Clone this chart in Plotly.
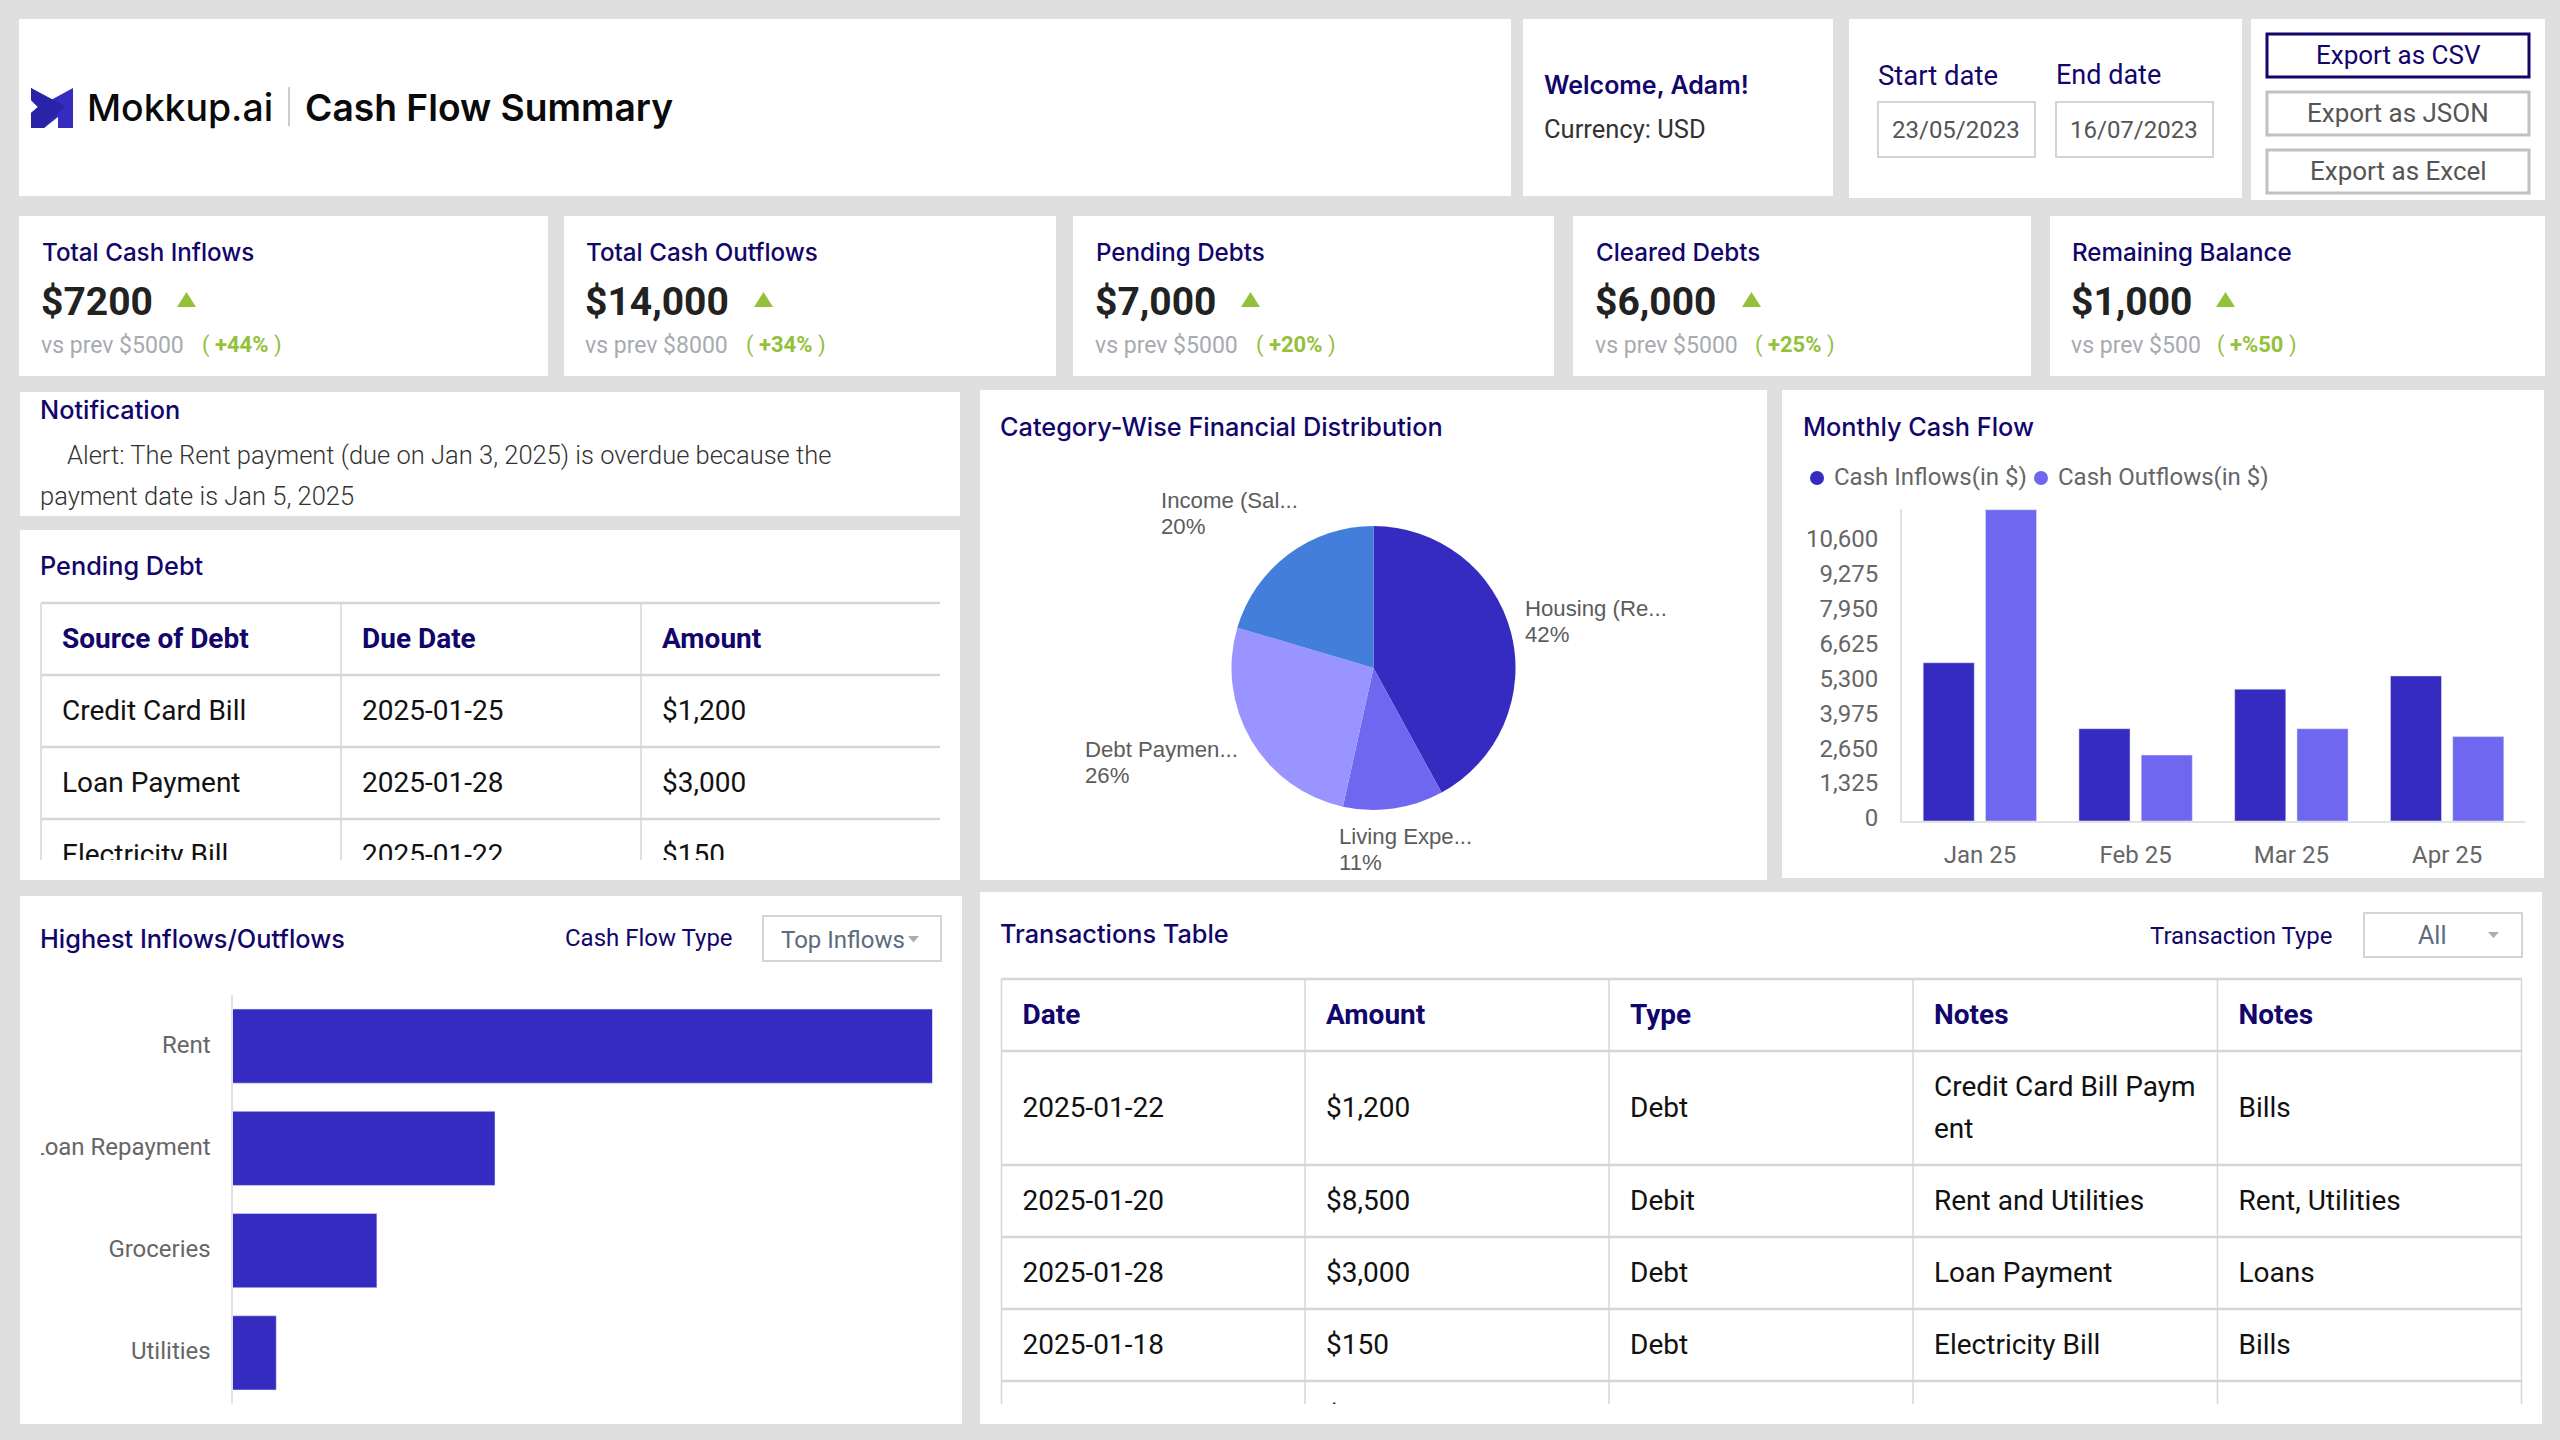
import plotly.graph_objects as go

W, H = 2560, 1440
NAVY = "#12066b"
INK = "#1f1f1f"
GREY = "#666666"
LINE = "#d6d6d6"
GREEN = "#93c13a"
BLUE1 = "#352bc0"
BLUE2 = "#6f67f0"
BLUE3 = "#9994ff"
BLUE4 = "#437fda"

# data
kpi_titles = ["Total Cash Inflows", "Total Cash Outflows", "Pending Debts", "Cleared Debts", "Remaining Balance"]
kpi_values = ["$7200", "$14,000", "$7,000", "$6,000", "$1,000"]
kpi_prev = ["vs prev $5000", "vs prev $8000", "vs prev $5000", "vs prev $5000", "vs prev $500"]
kpi_change = ["+44%", "+34%", "+20%", "+25%", "+%50"]

pie_labels = ["Housing (Re...", "Living Expe...", "Debt Paymen...", "Income (Sal..."]
pie_values = [42.0, 11.4, 26.1, 20.4]

months = ["Jan 25", "Feb 25", "Mar 25", "Apr 25"]
cash_inflows = [6000, 3500, 5000, 5500]
cash_outflows = [11800, 2500, 3500, 3200]
month_ticks = [0, 1325, 2650, 3975, 5300, 6625, 7950, 9275, 10600]

top_names = ["Rent", "Loan Repayment", "Groceries", "Utilities"]
top_values = [8000, 3000, 1650, 500]

debt_header = ["Source of Debt", "Due Date", "Amount"]
debt_rows = [
    ["Credit Card Bill", "2025-01-25", "$1,200"],
    ["Loan Payment", "2025-01-28", "$3,000"],
    ["Electricity Bill", "2025-01-22", "$150"],
]

trans_header = ["Date", "Amount", "Type", "Notes", "Notes"]
trans_rows = [
    ["2025-01-22", "$1,200", "Debt", "Credit Card Bill Paym<br>ent", "Bills"],
    ["2025-01-20", "$8,500", "Debit", "Rent and Utilities", "Rent, Utilities"],
    ["2025-01-28", "$3,000", "Debt", "Loan Payment", "Loans"],
    ["2025-01-18", "$150", "Debt", "Electricity Bill", "Bills"],
    ["", "$", "", "", ""],
]


def px(x):
    return x / W


def py(y):
    return 1 - y / H


shapes = []
notes = []


def box(x0, y0, x1, y1, fill="white", line=None, width=0, layer="below"):
    shapes.append(dict(type="rect", xref="paper", yref="paper", x0=px(x0), x1=px(x1), y0=py(y0), y1=py(y1),
                       fillcolor=fill, line=dict(color=line, width=width) if line else dict(width=0), layer=layer))


def poly(points, fill):
    path = "M " + " L ".join(f"{px(x)},{py(y)}" for x, y in points) + " Z"
    shapes.append(dict(type="path", xref="paper", yref="paper", path=path, fillcolor=fill, line=dict(width=0), layer="above"))


def dot(x, y, r, fill):
    shapes.append(dict(type="circle", xref="paper", yref="paper", x0=px(x - r), x1=px(x + r), y0=py(y + r), y1=py(y - r),
                       fillcolor=fill, line=dict(width=0), layer="above"))


def note(x, y, text, size=26, color=INK, weight=400, family="Roboto", anchor="left"):
    notes.append(dict(xref="paper", yref="paper", x=px(x), y=py(y), text=text, showarrow=False, xanchor=anchor, yanchor="middle",
                      borderpad=0, borderwidth=0, align=anchor,
                      font=dict(family=family, size=size, color=color, weight=weight)))


# panels
for r in [(19, 19, 1511, 196), (1523, 19, 1833, 196), (1849, 19, 2242, 198), (2251, 19, 2545, 200),
          (19, 216, 548, 376), (564, 216, 1056, 376), (1073, 216, 1554, 376), (1573, 216, 2031, 376), (2050, 216, 2545, 376),
          (20, 392, 960, 516), (20, 530, 960, 880), (980, 390, 1767, 880), (1782, 390, 2544, 878),
          (20, 896, 962, 1424), (980, 892, 2542, 1424)]:
    box(*r)

# header
poly([(31, 88), (51, 100), (73, 88), (73, 128), (58, 128), (58, 117), (44, 128), (31, 128), (31, 113), (38, 107), (31, 100)], BLUE1)
poly([(31, 88), (65, 106), (44, 128), (31, 128), (31, 113), (38, 107), (31, 100)], "#2a23a8")
note(87, 108, "Mokkup.ai", 37.4, "#0a0a0a", 500, "Inter")
shapes.append(dict(type="line", xref="paper", yref="paper", x0=px(289), x1=px(289), y0=py(87), y1=py(126), line=dict(color="#b9bcc4", width=1.5)))
note(304.5, 108, "Cash Flow Summary", 37.2, "#0a0a0a", 600, "Inter")

note(1544, 85, "Welcome, Adam!", 25, NAVY, 600, "Inter")
note(1544, 129, "Currency: USD", 25.5, "#333333")

note(1878, 75, "Start date", 27.5, NAVY)
note(2056, 75, "End date", 27, NAVY)
for x0, text in [(1878, "23/05/2023"), (2056, "16/07/2023")]:
    box(x0, 102, x0 + 157, 157, "white", "#d4d4d4", 2, "above")
    note(x0 + 78, 130, text, 24, "#555555", anchor="center")

for y0, text, border, color, bw in [(34, "Export as CSV", NAVY, NAVY, 3), (92, "Export as JSON", "#c0c0c6", "#555555", 3), (150, "Export as Excel", "#c0c0c6", "#555555", 3)]:
    box(2267, y0, 2529, y0 + 43, "white", border, bw, "above")
    note(2398, y0 + 21, text, 26, color, anchor="center")

# kpi cards
kpi_x = [41, 585, 1095, 1595, 2071]
tri_x = [177, 754, 1241, 1742, 2216]
paren_x = [202, 746, 1256, 1755, 2217]
for i in range(5):
    x = kpi_x[i]
    note(x + 0.5, 253, kpi_titles[i], 24.2, NAVY, 500, "Inter")
    note(x, 302, kpi_values[i], 39, "#222222", 700)
    poly([(tri_x[i] + 9.5, 292), (tri_x[i] + 19, 307), (tri_x[i], 307)], GREEN)
    note(x, 345, kpi_prev[i], 23, "#a8aab0")
    note(paren_x[i], 345, f"( <b>{kpi_change[i]}</b> )", 22, GREEN)

# notification
note(40, 409.5, "Notification", 25.3, NAVY, 500, "Inter")
note(67, 455, "Alert: The Rent payment (due on Jan 3, 2025) is overdue because the", 25.5, "#333333", 300)
note(40, 495.5, "payment date is Jan 5, 2025", 25.5, "#333333", 300)

# section titles
note(40, 566, "Pending Debt", 25.3, NAVY, 500, "Inter")
note(1000, 426, "Category-Wise Financial Distribution", 25.3, NAVY, 500, "Inter")
note(1802.5, 426, "Monthly Cash Flow", 25.3, NAVY, 500, "Inter")
note(40, 938, "Highest Inflows/Outflows", 25.3, NAVY, 500, "Inter")
note(1000, 933.5, "Transactions Table", 25.3, NAVY, 500, "Inter")

# filters
note(565, 938, "Cash Flow Type", 24, NAVY)
shapes.append(dict(type="rect", xref="paper", yref="paper", x0=px(763), x1=px(941), y0=py(916), y1=py(961), line=dict(color="#d4d4d4", width=2), fillcolor="white", layer="above"))
note(781, 940, "Top Inflows", 24, "#5d6b80")
poly([(908, 936), (919, 936), (913.5, 942.5)], "#a8aeb8")

note(2150, 936, "Transaction Type", 24, NAVY)
shapes.append(dict(type="rect", xref="paper", yref="paper", x0=px(2364), x1=px(2522), y0=py(913), y1=py(957), line=dict(color="#d4d4d4", width=2), fillcolor="white", layer="above"))
note(2432, 935, "All", 25, "#5d6b80", anchor="center")
poly([(2488, 932), (2499, 932), (2493.5, 938)], "#a8aeb8")

# monthly legend
for x_dot, x_text, color, name in [(1817, 1834, BLUE1, "Cash Inflows(in $)"), (2041, 2058, BLUE2, "Cash Outflows(in $)")]:
    dot(x_dot, 478, 7, color)
    note(x_text, 477, name, 24, GREY)

fig = go.Figure()

# pie, labels placed by hand since they sit left aligned next to the slices
fig.add_trace(go.Pie(labels=pie_labels, values=pie_values, sort=False, direction="clockwise", rotation=0,
                     textinfo="none", hoverinfo="label+percent", showlegend=False,
                     marker=dict(colors=[BLUE1, BLUE2, BLUE3, BLUE4], line=dict(width=0)),
                     domain=dict(x=[px(1373.5 - 142), px(1373.5 + 142)], y=[py(668 + 142), py(668 - 142)])))
pie_label_pos = [(1525, 608), (1338.5, 836), (1085, 749), (1161, 500)]
for (x, y), label, value in zip(pie_label_pos, pie_labels, pie_values):
    note(x, y, label, 22.2, "#5c5c5c", family="Liberation Sans")
    note(x, y + 26, f"{int(value)}%", 22.2, "#5c5c5c", family="Liberation Sans")

# monthly bars
fig.add_trace(go.Bar(x=months, y=cash_inflows, name="Cash Inflows(in $)", marker_color=BLUE1, showlegend=False, xaxis="x", yaxis="y"))
fig.add_trace(go.Bar(x=months, y=cash_outflows, name="Cash Outflows(in $)", marker_color=BLUE2, showlegend=False, xaxis="x", yaxis="y"))

# top inflows
fig.add_trace(go.Bar(x=top_values, y=top_names, orientation="h", marker_color=BLUE1, width=0.725, showlegend=False, xaxis="x2", yaxis="y2"))
box(20, 1125, 41, 1170, "white", layer="above")


def table(header, rows, col_x, row_y, xname, yname):
    # row_y holds the line positions, header first; col_x the column lines
    xs, ys, texts, colors, weights = [], [], [], [], []
    for c, text in enumerate(header):
        xs.append(col_x[c] + 21)
        ys.append((row_y[0] + row_y[1]) / 2 + 2)
        texts.append(text)
        colors.append(NAVY)
        weights.append(700)
    for r, row in enumerate(rows):
        mid = (row_y[r + 1] + row_y[r + 2]) / 2 + 2
        for c, text in enumerate(row):
            parts = text.split("<br>")
            for k, part in enumerate(parts):
                xs.append(col_x[c] + 21)
                ys.append(mid + (k - (len(parts) - 1) / 2) * 42.5)
                texts.append(part)
                colors.append("#111111")
                weights.append(400)
    return go.Scatter(x=xs, y=ys, text=texts, mode="text", textposition="middle right", hoverinfo="skip",
                      textfont=dict(family="Roboto", size=28, color=colors, weight=weights),
                      showlegend=False, cliponaxis=True, xaxis=xname, yaxis=yname)


def table_lines(col_x, row_y, x_end, y_end, xref, yref):
    for y in row_y:
        shapes.append(dict(type="line", xref=xref, yref=yref, x0=col_x[0], x1=x_end, y0=y, y1=y, line=dict(color=LINE, width=2.5), layer="below"))
    for x in col_x:
        shapes.append(dict(type="line", xref=xref, yref=yref, x0=x, x1=x, y0=row_y[0], y1=y_end, line=dict(color=LINE, width=1.5), layer="below"))


debt_cols = [41, 341, 641]
debt_lines = [603, 675, 747, 819, 891]
fig.add_trace(table(debt_header, debt_rows, debt_cols, debt_lines, "x3", "y3"))
table_lines(debt_cols, debt_lines, 940, 860, "x3", "y3")

trans_cols = [1001.5, 1305, 1609, 1913, 2217.5, 2521.5]
trans_lines = [979, 1051, 1165, 1237, 1309, 1381, 1453]
fig.add_trace(table(trans_header, trans_rows, trans_cols, trans_lines, "x4", "y4"))
table_lines(trans_cols, trans_lines, 2522, 1404, "x4", "y4")

hidden = dict(visible=False, fixedrange=True, automargin=False)
tick_font = dict(family="Roboto", size=24, color=GREY)
fig.update_layout(
    width=W, height=H, margin=dict(l=0, r=0, t=0, b=0, pad=0, autoexpand=False), paper_bgcolor="#dfdfdf", plot_bgcolor="rgba(0,0,0,0)",
    barmode="group", bargap=0.2, bargroupgap=0.18, shapes=shapes, annotations=notes,
    xaxis=dict(domain=[px(1902), px(2525)], anchor="y", tickfont=tick_font, showgrid=False, showline=True, linecolor="#e2e2e2", linewidth=2,
               ticks="outside", ticklen=11, tickcolor="rgba(0,0,0,0)", fixedrange=True, automargin=False),
    yaxis=dict(domain=[py(821), py(509)], anchor="x", range=[0, 11830], tickvals=month_ticks, tickformat=",", tickfont=tick_font, showgrid=False,
               showline=True, linecolor="#e2e2e2", linewidth=2, ticks="outside", ticklen=17, tickcolor="rgba(0,0,0,0)", zeroline=False, fixedrange=True,
               ticklabelshift=-3, automargin=False),
    xaxis2=dict(domain=[px(232.5), px(932.5)], anchor="y2", range=[0, 8000], visible=False, fixedrange=True, automargin=False),
    yaxis2=dict(domain=[py(1404), py(995)], anchor="x2", autorange="reversed", tickfont=tick_font, showgrid=False, showline=True, linecolor="#e2e2e2", linewidth=2,
                ticks="outside", ticklen=15, tickcolor="rgba(0,0,0,0)", zeroline=False, fixedrange=True, ticklabelshift=2, automargin=False),
    xaxis3=dict(domain=[px(38), px(940)], range=[38, 940], anchor="y3", **hidden),
    yaxis3=dict(domain=[py(860), py(600)], range=[860, 600], anchor="x3", **hidden),
    xaxis4=dict(domain=[px(999), px(2524)], range=[999, 2524], anchor="y4", **hidden),
    yaxis4=dict(domain=[py(1404), py(976)], range=[1404, 976], anchor="x4", **hidden),
)

fig.write_html("out.html", config={"displayModeBar": False}, post_script="document.body.style.margin='0';")
